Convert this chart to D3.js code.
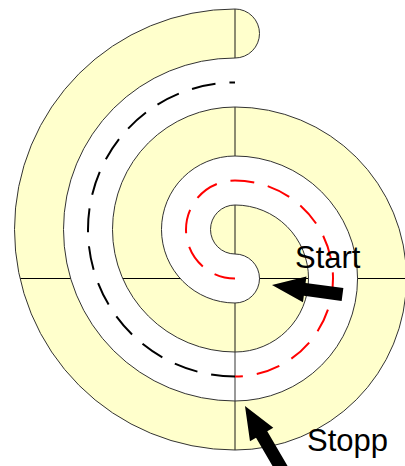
<!DOCTYPE html>
<html><head><meta charset="utf-8">
<script src="https://cdn.jsdelivr.net/npm/d3@7"></script>
<style>html,body{margin:0;padding:0;background:#fff;overflow:hidden}</style>
</head><body>
<svg id="c" width="405" height="466"></svg>
<script>
// Spiral made of half-turns (radii in track units), alternating left / right centres
const outerEdge = [4.5, 3.5, 2.5, 1.5, 0.5];   // outer edge of yellow band, first half-turn on the left
const innerEdge = [3.5, 2.5, 1.5, 0.5];        // inner edge of yellow band, first half-turn on the left
const blackLine = [3];                          // centre line, left half-turn (Stopp part)
const redLine = [2, 1];                         // centre line, right then left half-turn (Start part)
const labels = ["Start", "Stopp"];

const W = 405, H = 466;
const x = d3.scaleLinear().domain([-5, 5]).range([235 - 245, 235 + 245]);
const y = d3.scaleLinear().domain([-5, 5]).range([254 - 245, 254 + 245]);
const k = (x(1) - x(0));
const centreY = {L: -0.5, R: 0.5};
const HP = Math.PI / 2;

function halfTurns(p, radii, firstSide, inward) {
  radii.forEach((r, i) => {
    const side = (i % 2 === 0) ? firstSide : (firstSide === "L" ? "R" : "L");
    let a0, a1;
    if (inward) { if (side === "L") { a0 = -HP; a1 = HP; } else { a0 = HP; a1 = -HP; } }
    else { if (side === "L") { a0 = HP; a1 = -HP; } else { a0 = -HP; a1 = HP; } }
    p.arc(x(0), y(centreY[side]), r * k, a0, a1, inward);
  });
  return p;
}

const svg = d3.select("#c");

// yellow band
const band = d3.path();
halfTurns(band, outerEdge, "L", true);
halfTurns(band, innerEdge.slice().reverse(), "R", false);
band.arc(x(0), y(-4.5), 0.5 * k, HP, -HP, true);
band.closePath();
const bandD = band.toString();

svg.append("defs").append("clipPath").attr("id", "bandClip")
  .append("path").attr("d", bandD);

svg.append("path").attr("d", bandD).attr("fill", "#ffffcc").attr("stroke", "none");

const grid = svg.append("g").attr("clip-path", "url(#bandClip)");
grid.append("line")
  .attr("x1", x(-5)).attr("x2", x(5)).attr("y1", y(0.5)).attr("y2", y(0.5))
  .attr("stroke", "#000").attr("stroke-width", 1);
grid.append("line")
  .attr("x1", x(0)).attr("x2", x(0)).attr("y1", y(-5)).attr("y2", y(4))
  .attr("stroke", "#000").attr("stroke-opacity", 0.45).attr("stroke-width", 2);

// finish line across the track
svg.append("line")
  .attr("x1", x(0)).attr("x2", x(0)).attr("y1", y(2)).attr("y2", y(3))
  .attr("stroke", "#000").attr("stroke-opacity", 0.4).attr("stroke-width", 2);

svg.append("path").attr("d", bandD).attr("fill", "none")
  .attr("stroke", "#333").attr("stroke-width", 1);

// centre lines
svg.append("path").attr("d", halfTurns(d3.path(), blackLine, "L", false).toString())
  .attr("fill", "none").attr("stroke", "#000").attr("stroke-width", 2)
  .attr("stroke-dasharray", "24,14");
svg.append("path").attr("d", halfTurns(d3.path(), redLine, "R", true).toString())
  .attr("fill", "none").attr("stroke", "#ff0000").attr("stroke-width", 2)
  .attr("stroke-dasharray", "24,14").attr("stroke-dashoffset", 16);

// arrows
function arrow(tip, tail, headLen, headW, shaftW) {
  const dx = tail[0] - tip[0], dy = tail[1] - tip[1];
  const L = Math.hypot(dx, dy), ux = dx / L, uy = dy / L, nx = -uy, ny = ux;
  const b = [tip[0] + ux * headLen, tip[1] + uy * headLen];
  const pts = [
    tip,
    [b[0] + nx * headW / 2, b[1] + ny * headW / 2],
    [b[0] + nx * shaftW / 2, b[1] + ny * shaftW / 2],
    [tail[0] + nx * shaftW / 2, tail[1] + ny * shaftW / 2],
    [tail[0] - nx * shaftW / 2, tail[1] - ny * shaftW / 2],
    [b[0] - nx * shaftW / 2, b[1] - ny * shaftW / 2],
    [b[0] - nx * headW / 2, b[1] - ny * headW / 2]
  ];
  return d3.line()(pts) + "Z";
}
svg.append("path").attr("d", arrow([x(0.755), y(0.633)], [x(2.194), y(0.827)], 33, 26, 13)).attr("fill", "#000");
svg.append("path").attr("d", arrow([x(0.204), y(3.102)], [x(0.98), y(4.43)], 33, 27, 13)).attr("fill", "#000");

// labels
const labelPos = [[x(1.224), y(0.276)], [x(1.469), y(4.02)]];
svg.selectAll("text.lbl").data(labels).enter().append("text")
  .attr("class", "lbl")
  .attr("x", (d, i) => labelPos[i][0]).attr("y", (d, i) => labelPos[i][1])
  .attr("font-family", "'Liberation Sans', Arial, sans-serif")
  .attr("font-size", 31).attr("fill", "#000")
  .text(d => d);
</script>
</body></html>
